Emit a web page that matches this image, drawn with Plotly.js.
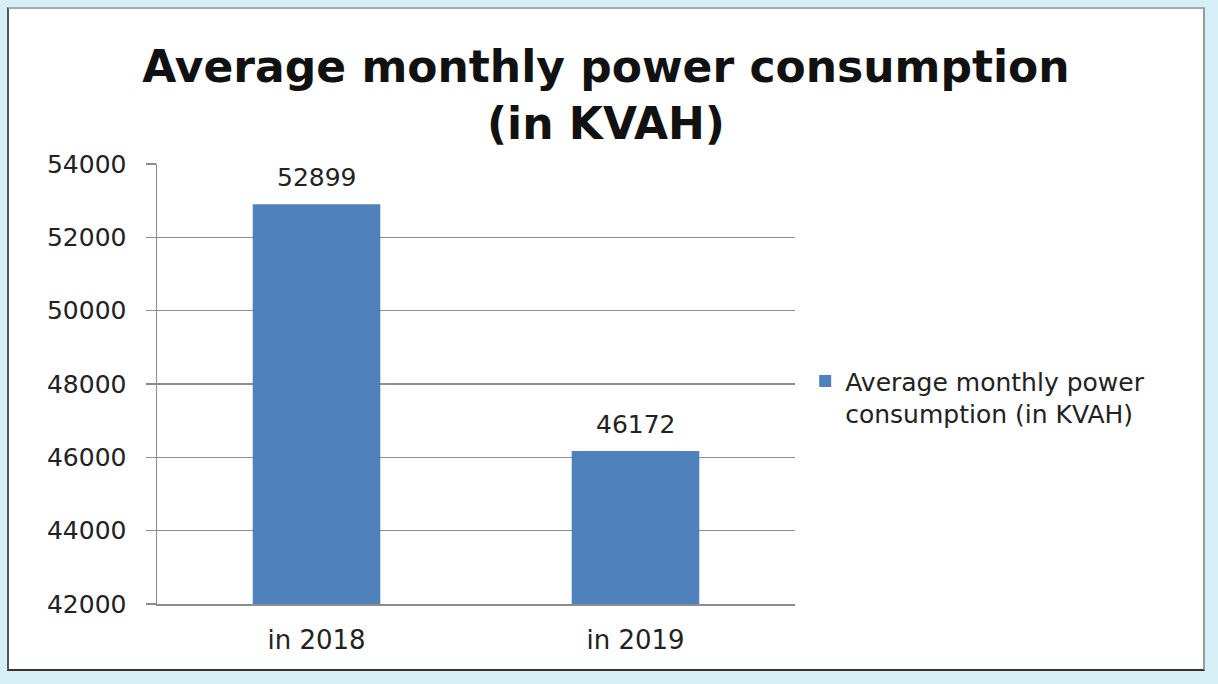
<!DOCTYPE html>
<html>
<head>
<meta charset="utf-8">
<script src="https://cdn.plot.ly/plotly-3.0.1.min.js"></script>
<style>
  html, body { margin:0; padding:0; background:#d6eef6; width:1218px; height:684px; overflow:hidden; }
  #frame { position:absolute; left:7px; top:7px; width:1194px; height:660px; border:2px solid; border-color:#a8a8a8 #9a9a9a #333 #555; background:#fff; }
  #chart { width:1194px; height:660px; }
</style>
</head>
<body>
<div id="frame"><div id="chart"></div></div>
<script>
const categories = ['in 2018', 'in 2019'];
const values = [52899, 46172];
const seriesName = 'Average monthly power<br>consumption (in KVAH)';
const chartTitle = 'Average monthly power consumption<br>(in KVAH)';
const yTicks = [42000, 44000, 46000, 48000, 50000, 52000, 54000];

const trace = {
  type: 'bar',
  x: categories,
  y: values,
  name: seriesName,
  marker: { color: '#4f81bd' },
  showlegend: true
};

const labelAnnotations = categories.map((c, i) => ({
  x: c, y: values[i], xref: 'x', yref: 'y',
  text: String(values[i]),
  showarrow: false, yanchor: 'bottom', yshift: 10,
  font: { family: 'DejaVu Sans', size: 25, color: '#222' }
}));

const layout = {
  width: 1194, height: 660,
  margin: { l: 148, r: 408, t: 155, b: 65 },
  paper_bgcolor: '#ffffff',
  plot_bgcolor: '#ffffff',
  font: { family: 'DejaVu Sans', color: '#222' },
  title: {
    text: chartTitle,
    font: { family: 'DejaVu Sans', size: 44, color: '#111', weight: 'bold' },
    x: 0.5, xanchor: 'center',
    y: 0.89, yanchor: 'top', yref: 'container'
  },
  bargap: 0.6,
  annotations: labelAnnotations,
  xaxis: {
    type: 'category',
    showline: true, linecolor: '#8c8c8c', linewidth: 1.5,
    showgrid: false, ticks: '',
    tickfont: { family: 'DejaVu Sans', size: 26, color: '#222' },
    ticklabelstandoff: 12
  },
  yaxis: {
    range: [42000, 54000],
    tickvals: yTicks,
    tickformat: 'd',
    showline: true, linecolor: '#8c8c8c', linewidth: 1.5,
    showgrid: true, gridcolor: '#8c8c8c', gridwidth: 1.5,
    ticks: 'outside', ticklen: 10, tickcolor: '#8c8c8c', tickwidth: 1.5,
    tickfont: { family: 'DejaVu Sans', size: 25, color: '#222' },
    ticklabelstandoff: 14,
    zeroline: false
  },
  showlegend: true,
  legend: {
    x: 1.016, xanchor: 'left', y: 0.47, yanchor: 'middle',
    valign: 'top',
    font: { family: 'DejaVu Sans', size: 25, color: '#222' },
    bgcolor: 'rgba(0,0,0,0)'
  }
};

Plotly.newPlot('chart', [trace], layout, { displayModeBar: false, staticPlot: true });
</script>
</body>
</html>
